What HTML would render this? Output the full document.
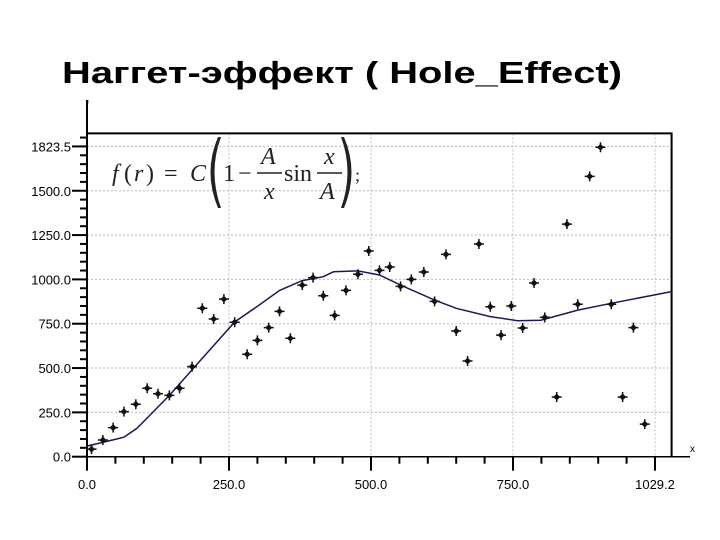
<!DOCTYPE html>
<html><head><meta charset="utf-8"><style>
html,body{margin:0;padding:0;background:#fff;width:720px;height:540px;overflow:hidden}
svg{display:block}
</style></head><body>
<svg id="chart" width="720" height="540" xmlns="http://www.w3.org/2000/svg">
<text x="62" y="83" font-family="Liberation Sans, sans-serif" font-weight="bold" font-size="31" textLength="560" lengthAdjust="spacingAndGlyphs" fill="#000">Наггет-эффект ( Hole_Effect)</text>
<g id="grid"></g>
<g id="axes"></g>
<g id="curve"></g>
<g id="points"></g>
<g font-family="Liberation Serif, serif" font-size="24" fill="#222">
<text x="112" y="181" font-style="italic">f</text>
<text x="124" y="181">(</text>
<text x="134" y="181" font-style="italic">r</text>
<text x="146" y="181">)</text>
<text x="164" y="181">=</text>
<text x="190" y="181" font-style="italic">C</text>
<path d="M218 137 Q203 172 218 208 L221 208 Q208 172 221 137 Z" fill="#222"/>
<text x="223" y="181">1</text>
<text x="238" y="181">−</text>
<text x="261" y="164" font-style="italic">A</text>
<line x1="257" y1="173" x2="282" y2="173" stroke="#222" stroke-width="1.5"/>
<text x="264" y="199" font-style="italic">x</text>
<text x="284" y="181">sin</text>
<text x="324" y="164" font-style="italic">x</text>
<line x1="317" y1="173" x2="342" y2="173" stroke="#222" stroke-width="1.5"/>
<text x="320" y="199" font-style="italic">A</text>
<path d="M344 137 Q359 172 344 208 L341 208 Q354 172 341 137 Z" fill="#222"/>
<text x="355" y="181" font-size="18">;</text>
</g>
</svg>
<script>
const ptX=[8,28,46,65,86,106,125,145,163,185,203,223,241,260,282,300,320,339,358,379,398,416,436,456,477,496,515,533,552,571,593,612,632,650,670,690,710,729,747,767,787,806,827,845,864,885,904,923,943,962,982];
const ptY=[43,94,164,254,296,386,355,346,386,508,837,777,889,758,578,656,728,820,668,968,1010,908,797,938,1029,1160,1051,1070,961,1000,1042,876,1141,709,540,1200,846,686,850,726,980,786,337,1312,860,1581,1745,860,337,728,184];
const curveX=[0,46,65,88,145,185,260,299,339,379,416,434,477,515,552,612,650,710,758,799,864,923,1029];
const curveY=[60,95,110,160,346,490,760,846,938,993,1015,1043,1048,1025,968,883,837,790,767,770,827,865,931];
const xTicks=[0,250,500,750,1000];
const xTickLabels=["0.0","250.0","500.0","750.0","1029.2"];
const yTicks=[0,250,500,750,1000,1250,1500,1750];
const yTickLabels=["0.0","250.0","500.0","750.0","1000.0","1250.0","1500.0","1823.5"];
const NS="http://www.w3.org/2000/svg";
const X0=87,XK=0.568,Y0=456.7,YK=0.1773;
const sx=v=>X0+v*XK, sy=v=>Y0-v*YK;
const X1=sx(1029.2), Ytop=sy(1823.5);
function mk(tag,attrs,parent){const e=document.createElementNS(NS,tag);for(const k in attrs)e.setAttribute(k,attrs[k]);document.getElementById(parent).appendChild(e);return e;}
xTicks.forEach(v=>{if(v===0)return;const l=mk('line',{x1:sx(v),y1:Ytop,x2:sx(v),y2:Y0,stroke:'#bbb','stroke-dasharray':'2,2'},'grid');

});
yTicks.forEach(v=>{if(v===0)return;const l=mk('line',{x1:X0,y1:sy(v),x2:X1,y2:sy(v),stroke:'#bbb','stroke-dasharray':'2,2'},'grid');

});
let b=mk('path',{d:`M${X0} ${Ytop}H${X1}V${Y0}`,fill:'none',stroke:'#000','stroke-width':2},'axes');


let ya=mk('line',{x1:X0,y1:100,x2:X0,y2:Y0,stroke:'#000','stroke-width':2},'axes');


let xa=mk('line',{x1:72,y1:Y0,x2:690,y2:Y0,stroke:'#000','stroke-width':1.5},'axes');


let fl=mk('text',{x:86,y:108,'font-family':'Liberation Sans, sans-serif','font-size':10},'axes');fl.textContent='f';


let xl=mk('text',{x:690,y:452,'font-family':'Liberation Sans, sans-serif','font-size':10},'axes');xl.textContent='x';


for(let v=0;v<=1000;v+=50){const maj=v%250===0;const t=mk('line',{x1:sx(v),y1:Y0,x2:sx(v),y2:Y0+(maj?14:7),stroke:'#000','stroke-width':2},'axes');

}
for(let v=0;v<=1800;v+=50){if(sy(v)<Ytop-1)break;const maj=v%250===0;const t=mk('line',{x1:X0-(maj?15:7),y1:sy(v),x2:X0,y2:sy(v),stroke:'#000','stroke-width':2},'axes');

}
xTicks.forEach((v,i)=>{const t=mk('text',{x:sx(v),y:489,'text-anchor':'middle','font-family':'Liberation Sans, sans-serif','font-size':13},'axes');t.textContent=xTickLabels[i];

});
yTicks.forEach((v,i)=>{const t=mk('text',{x:71,y:sy(v)+5,'text-anchor':'end','font-family':'Liberation Sans, sans-serif','font-size':13},'axes');t.textContent=yTickLabels[i];

});
let d=curveX.map((v,i)=>(i?'L':'M')+sx(v).toFixed(1)+' '+sy(curveY[i]).toFixed(1)).join('');
let c=mk('path',{d:d,fill:'none',stroke:'#1a1a5a','stroke-width':1.5},'curve');


ptX.forEach((v,i)=>{const x=sx(v),y=sy(ptY[i]);
const p=mk('path',{d:`M${x-3.5} ${y}L${x} ${y-3.5}L${x+3.5} ${y}L${x} ${y+3.5}Z M${x-0.75} ${y-5}h1.5v10h-1.5z M${x-5} ${y-0.75}h10v1.5h-10z`,fill:'#111'},'points');

});
</script>
</body></html>
